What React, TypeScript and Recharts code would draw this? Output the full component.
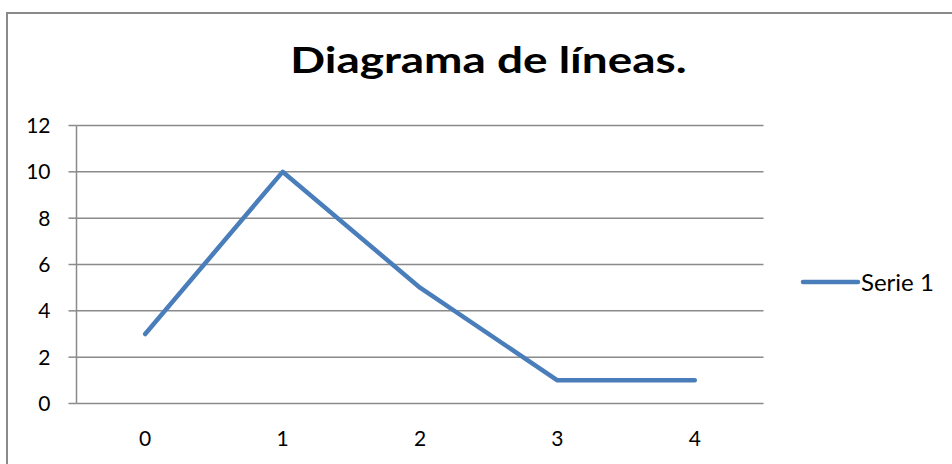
import React from "react";
import { LineChart, Line, XAxis, YAxis, CartesianGrid, Legend } from "recharts";

const title = "Diagrama de líneas.";
const categories = [0, 1, 2, 3, 4];
const serie1 = [3, 10, 5, 1, 1];
const seriesName = "Serie 1";
const yTicks = [0, 2, 4, 6, 8, 10, 12];

const boundaries = [...categories.map((c) => c - 0.5), categories[categories.length - 1] + 0.5];
const data = categories.map((c, i) => ({ x: c, serie1: serie1[i] }));

const FONT = "Lato, 'Open Sans', sans-serif";
const GRID = "#8a8a8a";
const BLUE = "#4a7ebb";

const LegendContent = (props: any) => {
  const items = props.payload || [];
  return (
    <div>
      {items.map((it: any) => (
        <div key={it.value} style={{ display: "flex", alignItems: "center", fontFamily: FONT, fontSize: 24, lineHeight: "28px", color: "#000" }}>
          <svg width={61} height={10} style={{ display: "block" }}>
            <line x1={3} y1={5} x2={58} y2={5} stroke={BLUE} strokeWidth={4.5} strokeLinecap="round" />
          </svg>
          <span style={{ marginLeft: 0 }}>{it.value}</span>
        </div>
      ))}
    </div>
  );
};

export default function App() {
  return (
    <div style={{ position: "fixed", left: 0, top: 0, width: 952, height: 464, background: "#fff", overflow: "hidden" }}>
      <div
        style={{
          position: "absolute",
          left: 0,
          width: 976,
          top: 37,
          textAlign: "center",
          fontFamily: FONT,
          fontWeight: "bold",
          fontSize: 36,
          lineHeight: "44px",
          color: "#000",
        }}
      >
        <span style={{ display: "inline-block", transform: "scaleX(1.275)", transformOrigin: "center" }}>{title}</span>
      </div>
      <div style={{ position: "absolute", left: 0, top: 0 }}>
        <LineChart width={952} height={464} data={data} margin={{ top: 125.5, right: 188.5, left: 16.5, bottom: 30.5 }}>
          <CartesianGrid horizontal vertical={false} stroke={GRID} strokeWidth={1.5} />
          <XAxis
            xAxisId="b"
            dataKey="x"
            type="number"
            domain={[boundaries[0], boundaries[boundaries.length - 1]]}
            ticks={boundaries}
            interval={0}
            tick={false}
            tickSize={8}
            height={0}
            stroke={GRID}
            strokeWidth={1.5}
            axisLine={{ stroke: GRID, strokeWidth: 1.5 }}
            tickLine={{ stroke: GRID, strokeWidth: 1.5 }}
          />
          <XAxis
            xAxisId="l"
            dataKey="x"
            type="number"
            domain={[boundaries[0], boundaries[boundaries.length - 1]]}
            ticks={categories}
            interval={0}
            axisLine={false}
            tickLine={false}
            tickSize={0}
            tickMargin={28}
            height={30}
            tick={{ fill: "#000", fontFamily: FONT, fontSize: 21 }}
          />
          <YAxis
            xAxisId="b"
            domain={[0, 12]}
            ticks={yTicks}
            interval={0}
            width={60}
            tickSize={8}
            tickMargin={18}
            axisLine={{ stroke: GRID, strokeWidth: 1.5 }}
            tickLine={{ stroke: GRID, strokeWidth: 1.5 }}
            tick={{ fill: "#000", fontFamily: FONT, fontSize: 21 }}
          />
          <Legend
            layout="vertical"
            align="center"
            verticalAlign="middle"
            wrapperStyle={{ left: 800, top: 268, width: 150 }}
            content={<LegendContent />}
          />
          <Line
            xAxisId="b"
            dataKey="serie1"
            name={seriesName}
            stroke={BLUE}
            strokeWidth={4.5}
            strokeLinecap="round"
            strokeLinejoin="round"
            dot={false}
            activeDot={false}
            isAnimationActive={false}
          />
        </LineChart>
      </div>
      <div
        style={{
          position: "absolute",
          left: 6,
          top: 12,
          width: 960,
          height: 470,
          borderLeft: `2px solid ${GRID}`,
          borderTop: `2px solid ${GRID}`,
          boxSizing: "border-box",
          pointerEvents: "none",
          zIndex: 5,
        }}
      />
    </div>
  );
}
